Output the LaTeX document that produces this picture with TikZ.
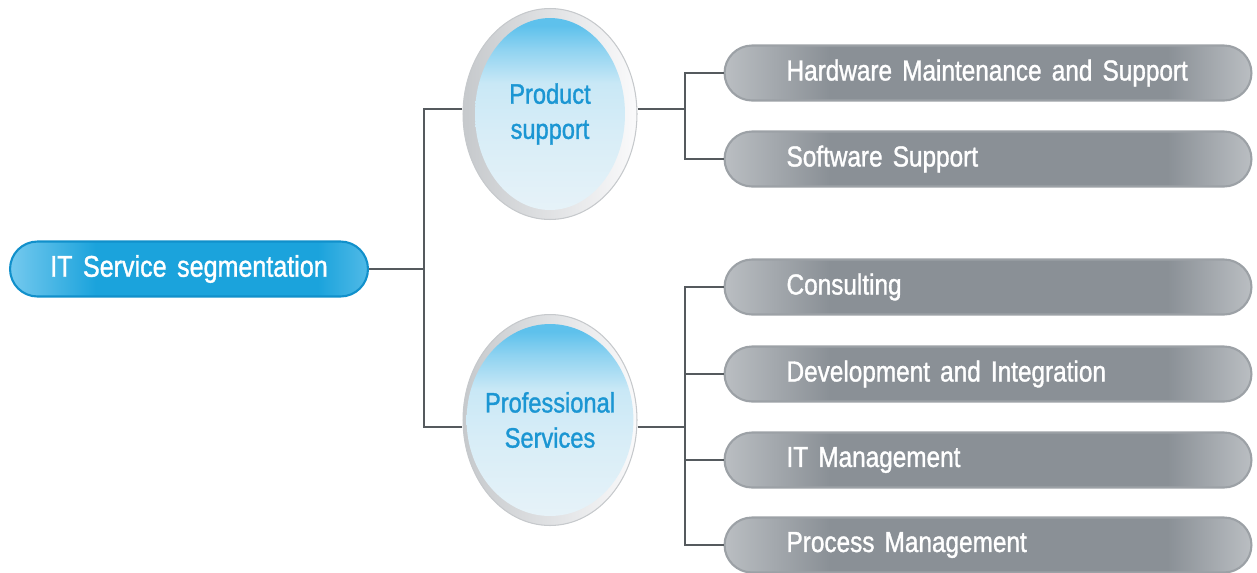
\documentclass[tikz,border=0pt]{standalone}
\usepackage{fontspec}
\setmainfont{Liberation Sans}[FakeStretch=0.84,WordSpace=1.5,FakeBold=1.2]
\usepackage{tikz}
\usetikzlibrary{shapes.geometric,positioning,calc}
\definecolor{rootBlue}{HTML}{1BA3DC}
\definecolor{rootLight}{HTML}{74C9EE}
\definecolor{rootEdge}{HTML}{1190CB}
\definecolor{barGrey}{HTML}{8A9096}
\definecolor{barLight}{HTML}{BABEC2}
\definecolor{barEdge}{HTML}{9CA1A6}
\definecolor{ringDark}{HTML}{C6C9CC}
\definecolor{ringLight}{HTML}{FAFAFB}
\definecolor{blueTop}{HTML}{5EC1EC}
\definecolor{blueMid}{HTML}{C9E8F6}
\definecolor{blueLow}{HTML}{E6F2F8}
\definecolor{branchText}{HTML}{1B96D3}
\definecolor{lineGrey}{HTML}{555A5E}
% shadings: the path is mapped onto 25bp..75bp
\pgfdeclareverticalshading{bubble}{100bp}{color(0bp)=(blueLow); color(25bp)=(blueLow); color(45bp)=(blueLow!50!blueMid); color(58bp)=(blueMid); color(67bp)=(blueTop!55!blueMid); color(73bp)=(blueTop); color(100bp)=(blueTop)}
\pgfdeclarehorizontalshading{barshade}{100bp}{color(0bp)=(barLight); color(25bp)=(barLight); color(35bp)=(barGrey); color(67bp)=(barGrey); color(75bp)=(barLight); color(100bp)=(barLight)}
\pgfdeclarehorizontalshading{rootshade}{100bp}{color(0bp)=(rootLight); color(25bp)=(rootLight); color(37bp)=(rootBlue); color(68bp)=(rootBlue); color(75bp)=(rootLight!60!rootBlue); color(100bp)=(rootLight!60!rootBlue)}
\tikzset{
    link/.style={draw=lineGrey, line width=0.9pt}
}

\begin{document}
\begin{tikzpicture}[
            x=0.02cm, y=-0.02cm,
            root/.style={rounded corners=0.55cm, draw=rootEdge, line width=1.2pt, shading=rootshade,
                minimum width=7.16cm, minimum height=1.1cm, text=white, font=\fontsize{17}{20}\selectfont},
            ring/.style={ellipse, minimum width=3.48cm, minimum height=4.22cm, inner sep=0pt,
                draw=ringDark, line width=0.6pt, left color=ringDark, right color=ringLight},
            bubble/.style={ellipse, minimum width=3cm, minimum height=3.84cm, inner xsep=-0.12cm, inner ysep=0pt,
                shading=bubble, align=center, text=branchText, font=\fontsize{16}{20}\selectfont},
            bar/.style={rounded corners=0.55cm, draw=barEdge, line width=1.2pt, shading=barshade,
                minimum width=10.54cm, minimum height=1.1cm, text=white, font=\fontsize{16.5}{18}\selectfont}
        ]
            \useasboundingbox (0,0) rectangle (1257,572);

            % Root
            \node[root] (root) at (189,269) {IT Service segmentation};

            % Branches
            \node[ring, label={[bubble]center:Product\\support}] (prod) at (550,114) {};
            \node[ring, label={[bubble]center:Professional\\Services}] (prof) at (550,420) {};

            % Leaves of product support
            \node[bar] (hw) at (988,73) {\makebox[8.06cm][l]{Hardware Maintenance and Support}};
            \node[bar] (sw) at (988,159) {\makebox[8.06cm][l]{Software Support}};

            % Leaves of professional services
            \node[bar] (cons) at (988,287) {\makebox[8.06cm][l]{Consulting}};
            \node[bar] (dev) at (988,374) {\makebox[8.06cm][l]{Development and Integration}};
            \node[bar] (itm) at (988,460) {\makebox[8.06cm][l]{IT Management}};
            \node[bar] (pm) at (988,545) {\makebox[8.06cm][l]{Process Management}};

            % Connectors
            \coordinate (rbus) at (424,269);
            \coordinate (pbus) at (685,109);
            \coordinate (sbus) at (685,427);
            \draw[link] (root) -- (rbus);
            \draw[link] (prod.west |- pbus) -| (rbus);
            \draw[link] (prof.west |- sbus) -| (rbus);
            \draw[link] (prod.east |- pbus) -- (pbus);
            \draw[link] (hw.west) -| (pbus);
            \draw[link] (sw.west) -| (pbus);
            \draw[link] (prof.east |- sbus) -- (sbus);
            \draw[link] (cons.west) -| (sbus);
            \draw[link] (dev.west) -| (sbus);
            \draw[link] (itm.west) -| (sbus);
            \draw[link] (pm.west) -| (sbus);

        \end{tikzpicture}
\end{document}
